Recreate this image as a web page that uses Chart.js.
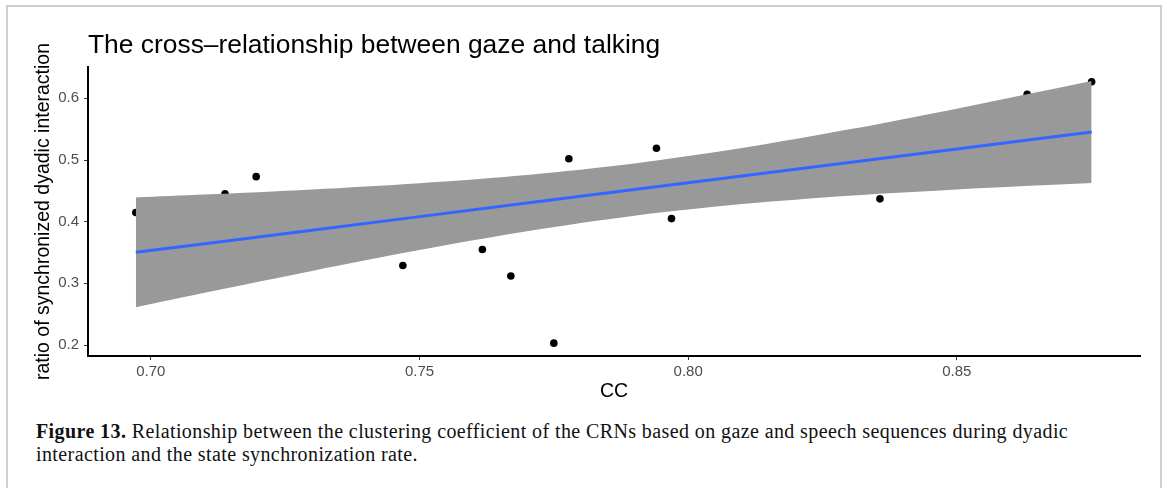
<!DOCTYPE html>
<html lang="en">
<head>
    <meta charset="UTF-8">
    <title>Gaze and talking</title>
    <script src="https://cdn.jsdelivr.net/npm/chart.js"></script>
    <style>
        html, body {
            margin: 0;
            padding: 0;
            background: #fff;
            width: 1167px;
            height: 488px;
            overflow: hidden;
        }
        .frame {
            position: absolute;
            left: 6px;
            top: 5px;
            width: 1152px;
            height: 600px;
            border: 2px solid #cfcfcf;
        }
        .plot {
            position: absolute;
            left: 0;
            top: 0;
            width: 1167px;
            height: 420px;
        }
        .caption {
            position: absolute;
            left: 36px;
            top: 420px;
            font-family: 'Liberation Serif', serif;
            font-size: 20px;
            letter-spacing: 0.4px;
            line-height: 23px;
            color: #111;
            white-space: nowrap;
        }
    </style>
</head>
<body>
    <div class="frame"></div>
    <div class="plot"><canvas id="chart" width="1167" height="420"></canvas></div>
    <div class="caption">
        <b>Figure 13.</b> Relationship between the clustering coefficient of the CRNs based on gaze and speech sequences during dyadic<br>
        interaction and the state synchronization rate.
    </div>

    <script>
        // observed pairs (clustering coefficient, synchronization ratio)
        const ccValues = [0.6972, 0.7138, 0.7196, 0.7469, 0.7617, 0.7670, 0.7750, 0.7778, 0.7941, 0.7969, 0.8357, 0.8631, 0.8751];
        const ratioValues = [0.415, 0.445, 0.473, 0.329, 0.355, 0.312, 0.203, 0.502, 0.519, 0.405, 0.437, 0.6065, 0.627];

        // linear fit and its confidence band
        const fitX = [0.6972, 0.71, 0.73, 0.75, 0.77, 0.79, 0.81, 0.83, 0.85, 0.8751];
        const fitY = [0.3503, 0.3643, 0.3862, 0.4082, 0.4301, 0.4520, 0.4739, 0.4959, 0.5178, 0.5453];
        const bandUpper = [0.4392, 0.4439, 0.4522, 0.4624, 0.4757, 0.4943, 0.5193, 0.5497, 0.5833, 0.6280];
        const bandLower = [0.2614, 0.2847, 0.3202, 0.3540, 0.3845, 0.4097, 0.4285, 0.4421, 0.4523, 0.4626];

        const xTicks = [0.70, 0.75, 0.80, 0.85];
        const yTicks = [0.2, 0.3, 0.4, 0.5, 0.6];

        const toPoints = (xs, ys) => xs.map((x, i) => ({ x: x, y: ys[i] }));

        const sans = "'Liberation Sans', Arial, sans-serif";

        // title sits flush with the panel's left edge
        const plotTitle = {
            id: 'plotTitle',
            afterDraw(chart) {
                const ctx = chart.ctx;
                ctx.save();
                ctx.font = '26.4px ' + sans;
                ctx.fillStyle = '#000';
                ctx.textBaseline = 'alphabetic';
                ctx.fillText('The cross\u2013relationship between gaze and talking', chart.chartArea.left, 53);
                ctx.restore();
            }
        };

        new Chart(document.getElementById('chart'), {
            type: 'scatter',
            data: {
                datasets: [
                    {
                        label: 'fit',
                        data: toPoints(fitX, fitY),
                        showLine: true,
                        borderColor: '#3366FF',
                        borderWidth: 3,
                        pointRadius: 0,
                        fill: false,
                        order: 0
                    },
                    {
                        label: 'upper',
                        data: toPoints(fitX, bandUpper),
                        showLine: true,
                        borderWidth: 0,
                        borderColor: 'rgba(0,0,0,0)',
                        backgroundColor: '#999999',
                        pointRadius: 0,
                        tension: 0.3,
                        fill: '+1',
                        order: 1
                    },
                    {
                        label: 'lower',
                        data: toPoints(fitX, bandLower),
                        showLine: true,
                        borderWidth: 0,
                        borderColor: 'rgba(0,0,0,0)',
                        pointRadius: 0,
                        tension: 0.3,
                        fill: false,
                        order: 2
                    },
                    {
                        label: 'CC',
                        data: toPoints(ccValues, ratioValues),
                        pointRadius: 3.8,
                        pointBackgroundColor: '#000',
                        pointBorderColor: '#000',
                        pointBorderWidth: 0,
                        order: 3
                    }
                ]
            },
            options: {
                responsive: false,
                animation: false,
                layout: { padding: { left: 0, top: 67, right: 27, bottom: 14 } },
                plugins: {
                    legend: { display: false },
                    tooltip: { enabled: false }
                },
                scales: {
                    x: {
                        type: 'linear',
                        min: 0.6883,
                        max: 0.8841,
                        afterBuildTicks: s => { s.ticks = xTicks.map(v => ({ value: v })); },
                        afterFit: s => { s.height = 50; },
                        border: { display: true, color: '#000', width: 2 },
                        grid: { display: true, drawOnChartArea: false, drawTicks: true, tickLength: 4, color: '#333', lineWidth: 1 },
                        ticks: {
                            color: '#4d4d4d',
                            font: { family: sans, size: 15 },
                            padding: 3,
                            maxRotation: 0,
                            callback: v => v.toFixed(2)
                        },
                        title: {
                            display: true,
                            text: 'CC',
                            color: '#000',
                            font: { family: sans, size: 19.5 },
                            padding: { top: 0, bottom: 2.5 }
                        }
                    },
                    y: {
                        type: 'linear',
                        min: 0.1822,
                        max: 0.6508,
                        afterBuildTicks: s => { s.ticks = yTicks.map(v => ({ value: v })); },
                        afterFit: s => { s.width = 88; },
                        border: { display: true, color: '#000', width: 2 },
                        grid: { display: true, drawOnChartArea: false, drawTicks: true, tickLength: 4, color: '#333', lineWidth: 1 },
                        ticks: {
                            color: '#4d4d4d',
                            font: { family: sans, size: 15 },
                            padding: 5,
                            callback: v => v.toFixed(1)
                        },
                        title: {
                            display: true,
                            text: 'ratio of synchronized dyadic interaction',
                            color: '#000',
                            font: { family: sans, size: 19.5 },
                            padding: { top: 32, bottom: 0 }
                        }
                    }
                }
            },
            plugins: [plotTitle]
        });
    </script>
</body>
</html>
